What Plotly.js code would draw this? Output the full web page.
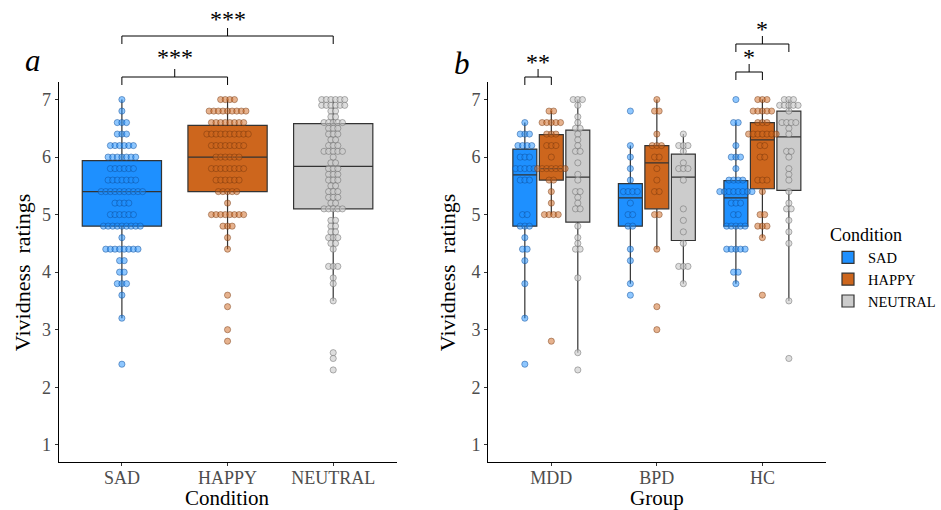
<!DOCTYPE html>
<html><head><meta charset="utf-8">
<script src="https://cdn.plot.ly/plotly-3.0.1.min.js"></script>
<style>html,body{margin:0;padding:0;background:#fff;overflow:hidden;width:941px;height:510px}#chart{width:941px;height:510px;overflow:hidden}</style>
</head><body><div id="chart"></div>
<script>
// ---------- categories ----------
const conditions = ['SAD', 'HAPPY', 'NEUTRAL'];
const groups = ['MDD', 'BPD', 'HC'];
const yTicks = [1, 2, 3, 4, 5, 6, 7];

// ---------- panel a: dot levels and counts (per condition) ----------
const aSadLevels = [7.0, 6.8, 6.6, 6.4, 6.2, 6.0, 5.8, 5.6, 5.4, 5.2, 5.0, 4.8, 4.6, 4.4, 4.2, 4.0, 3.8, 3.6, 3.2, 2.4];
const aSadCounts = [1, 1, 3, 3, 6, 7, 6, 7, 10, 4, 6, 9, 1, 8, 2, 2, 3, 1, 1, 1];
const aHappyLevels = [7.0, 6.8, 6.6, 6.4, 6.2, 6.0, 5.8, 5.6, 5.4, 5.2, 5.0, 4.8, 4.6, 4.4, 3.6, 3.4, 3.0, 2.8];
const aHappyCounts = [4, 9, 8, 10, 8, 6, 8, 6, 5, 1, 8, 3, 1, 1, 1, 1, 1, 1];
const aNeutralLevels = [7.0, 6.9, 6.8, 6.7, 6.6, 6.5, 6.4, 6.3, 6.2, 6.1, 6.0, 5.9, 5.8, 5.7, 5.6, 5.5, 5.4, 5.3, 5.2, 5.1, 4.9, 4.8, 4.7, 4.6, 4.5, 4.4, 4.1, 3.9, 3.8, 3.5, 2.6, 2.5, 2.3];
const aNeutralCounts = [6, 6, 2, 2, 5, 3, 3, 2, 3, 5, 1, 2, 3, 3, 3, 2, 3, 3, 2, 5, 2, 2, 2, 3, 2, 1, 3, 1, 1, 1, 1, 1, 1];

// panel a box statistics (SAD, HAPPY, NEUTRAL)
const aQ1 = [4.8, 5.4, 5.1];
const aMedian = [5.4, 6.0, 5.84];
const aQ3 = [5.94, 6.55, 6.58];
const aLower = [3.2, 4.4, 3.5];
const aUpper = [7.0, 7.0, 7.0];

// ---------- panel b: dot levels and counts (group x condition) ----------
const mddSadLevels = [6.6, 6.4, 6.2, 6.0, 5.8, 5.6, 5.0, 4.8, 4.6, 4.4, 4.2, 3.8, 3.2, 2.4];
const mddSadCounts = [1, 3, 4, 3, 5, 3, 2, 3, 1, 2, 1, 1, 1, 1];
const mddHappyLevels = [6.8, 6.6, 6.4, 6.2, 6.0, 5.8, 5.6, 5.4, 5.2, 5.0, 2.8];
const mddHappyCounts = [2, 5, 3, 3, 1, 7, 2, 1, 1, 4, 1];
const mddNeutralLevels = [7.0, 6.9, 6.7, 6.6, 6.5, 6.4, 6.3, 6.2, 6.1, 5.9, 5.7, 5.6, 5.4, 5.3, 5.2, 5.1, 4.8, 4.6, 4.5, 4.4, 3.9, 2.6, 2.3];
const mddNeutralCounts = [3, 1, 1, 1, 2, 1, 1, 1, 2, 1, 1, 1, 2, 1, 1, 2, 1, 1, 1, 2, 1, 1, 1];

const bpdSadLevels = [6.8, 6.2, 6.0, 5.8, 5.6, 5.4, 5.2, 5.0, 4.8, 4.4, 4.2, 3.8, 3.6];
const bpdSadCounts = [1, 1, 1, 1, 1, 4, 1, 2, 2, 1, 1, 1, 1];
const bpdHappyLevels = [7.0, 6.8, 6.4, 6.2, 6.0, 5.8, 5.6, 5.4, 5.0, 4.4, 3.4, 3.0];
const bpdHappyCounts = [1, 2, 1, 3, 2, 1, 1, 2, 2, 1, 1, 1];
const bpdNeutralLevels = [6.4, 6.2, 6.1, 5.9, 5.8, 5.6, 5.1, 4.9, 4.7, 4.5, 4.1, 3.8];
const bpdNeutralCounts = [1, 3, 1, 1, 3, 1, 1, 1, 1, 1, 3, 1];

const hcSadLevels = [7.0, 6.6, 6.2, 6.0, 5.8, 5.6, 5.4, 5.2, 5.0, 4.8, 4.4, 4.0, 3.8];
const hcSadCounts = [1, 2, 1, 3, 1, 4, 8, 3, 2, 5, 5, 2, 1];
const hcHappyLevels = [7.0, 6.8, 6.6, 6.4, 6.2, 6.0, 5.6, 5.4, 5.0, 4.8, 4.6, 3.6];
const hcHappyCounts = [3, 5, 3, 7, 2, 2, 3, 1, 2, 3, 1, 1];
const hcNeutralLevels = [7.0, 6.9, 6.8, 6.6, 6.5, 6.4, 6.1, 6.0, 5.8, 5.7, 5.6, 5.4, 5.2, 5.1, 4.9, 4.7, 4.5, 3.5, 2.5];
const hcNeutralCounts = [3, 5, 1, 4, 1, 1, 2, 1, 1, 1, 1, 1, 1, 2, 1, 1, 1, 1, 1];

// panel b box statistics, per condition across groups (MDD, BPD, HC)
const bSadQ1 = [4.8, 4.8, 4.8], bSadMedian = [5.69, 5.29, 5.29], bSadQ3 = [6.14, 5.54, 5.59], bSadLower = [3.2, 3.8, 3.8], bSadUpper = [6.6, 6.2, 6.6];
const bHappyQ1 = [5.6, 5.1, 5.45], bHappyMedian = [5.8, 5.9, 6.3], bHappyQ3 = [6.39, 6.2, 6.6], bHappyLower = [5.0, 4.4, 4.6], bHappyUpper = [6.8, 7.0, 7.0];
const bNeutralQ1 = [4.87, 4.55, 5.42], bNeutralMedian = [5.65, 5.65, 6.35], bNeutralQ3 = [6.47, 6.05, 6.8], bNeutralLower = [2.6, 3.8, 3.5], bNeutralUpper = [7.0, 6.4, 7.0];

// significance labels
const sigA = [{from: 0, to: 1, label: '***'}, {from: 0, to: 2, label: '***'}];
const sigB = [{group: 0, from: 0, to: 1, label: '**'}, {group: 2, from: 0, to: 1, label: '*'}, {group: 2, from: 0, to: 2, label: '*'}];

// ---------- styling ----------
const W = 941, H = 510;
const boxFill = ['#1E90FF', '#CD661D', '#CCCCCC'];
const dotFill = ['rgba(30,144,255,0.5)', 'rgba(205,102,29,0.5)', 'rgba(204,204,204,0.65)'];
const dotLine = ['rgba(15,75,150,0.6)', 'rgba(110,50,12,0.55)', 'rgba(100,100,100,0.6)'];
const FONT = 'Liberation Serif, DejaVu Serif, serif';
const xDomA = [58.5 / W, 396.6 / W];
const xDomB = [488 / W, 825.7 / W];
const yDom = [(H - 462) / H, (H - 82.3) / H];
const xRange = [0.4, 3.6];
const pxPerUnitA = (xDomA[1] - xDomA[0]) * W / (xRange[1] - xRange[0]);
const pxPerUnitB = (xDomB[1] - xDomB[0]) * W / (xRange[1] - xRange[0]);
const DOT_STEP_PX = 4.6, DOT_SIZE = 6.2;
const dodge = 0.251;
const py = p => (H - p) / H;
const px = p => p / W;

function dotTrace(levels, counts, center, xa, ya, ci, pxu) {
  const xs = [], ys = [];
  const dx = DOT_STEP_PX / pxu;
  levels.forEach((v, i) => {
    const n = counts[i];
    for (let k = 0; k < n; k++) { xs.push(center + (k - (n - 1) / 2) * dx); ys.push(v); }
  });
  return {type: 'scatter', mode: 'markers', x: xs, y: ys, xaxis: xa, yaxis: ya, showlegend: false,
    hoverinfo: 'y', marker: {size: DOT_SIZE, color: dotFill[ci], line: {color: dotLine[ci], width: 0.8}}};
}
function boxTrace(xs, q1, med, q3, lo, hi, ci, width, xa, ya, showlegend) {
  return {type: 'box', x: xs, q1: q1, median: med, q3: q3, lowerfence: lo, upperfence: hi,
    xaxis: xa, yaxis: ya, width: width, fillcolor: boxFill[ci], line: {color: '#333333', width: 1.2},
    whiskerwidth: 0, boxpoints: false, name: conditions[ci], legendgroup: conditions[ci], showlegend: showlegend};
}

const traces = [];
for (let c = 0; c < 3; c++) {
  traces.push(boxTrace([c + 1], [aQ1[c]], [aMedian[c]], [aQ3[c]], [aLower[c]], [aUpper[c]], c, 0.75, 'x', 'y', false));
}
const bStats = [
  [bSadQ1, bSadMedian, bSadQ3, bSadLower, bSadUpper],
  [bHappyQ1, bHappyMedian, bHappyQ3, bHappyLower, bHappyUpper],
  [bNeutralQ1, bNeutralMedian, bNeutralQ3, bNeutralLower, bNeutralUpper]
];
for (let c = 0; c < 3; c++) {
  const xs = groups.map((g, gi) => gi + 1 + (c - 1) * dodge);
  const s = bStats[c];
  traces.push(boxTrace(xs, s[0], s[1], s[2], s[3], s[4], c, 0.227, 'x2', 'y2', true));
}
const aDots = [[aSadLevels, aSadCounts], [aHappyLevels, aHappyCounts], [aNeutralLevels, aNeutralCounts]];
aDots.forEach((d, c) => traces.push(dotTrace(d[0], d[1], c + 1, 'x', 'y', c, pxPerUnitA)));
const bDots = [
  [[mddSadLevels, mddSadCounts], [mddHappyLevels, mddHappyCounts], [mddNeutralLevels, mddNeutralCounts]],
  [[bpdSadLevels, bpdSadCounts], [bpdHappyLevels, bpdHappyCounts], [bpdNeutralLevels, bpdNeutralCounts]],
  [[hcSadLevels, hcSadCounts], [hcHappyLevels, hcHappyCounts], [hcNeutralLevels, hcNeutralCounts]]
];
bDots.forEach((grp, gi) => grp.forEach((d, c) =>
  traces.push(dotTrace(d[0], d[1], gi + 1 + (c - 1) * dodge, 'x2', 'y2', c, pxPerUnitB))));

// ---------- brackets ----------
const shapes = [], annotations = [];
function bracket(xref, x1, x2, lineP, textGap, text) {
  const yl = py(lineP), ye = py(lineP + 8), yt = py(lineP - 8);
  const xc = (x1 + x2) / 2;
  shapes.push({type: 'path', xref: xref, yref: 'paper',
    path: `M ${x1},${ye} L ${x1},${yl} L ${x2},${yl} L ${x2},${ye} M ${xc},${yl} L ${xc},${yt}`,
    line: {color: '#000', width: 1}});
  annotations.push({xref: xref, yref: 'paper', x: xc, y: py(lineP - textGap), yanchor: 'middle', text: text,
    showarrow: false, font: {family: FONT, size: 24, color: '#000'}});
}
const bracketLinesA = [77, 36], bracketGapsA = [20, 17];
sigA.forEach((s, i) => bracket('x', s.from + 1, s.to + 1, bracketLinesA[i], bracketGapsA[i], s.label));
const bracketLinesB = [77, 72, 44];
sigB.forEach((s, i) => bracket('x2', s.group + 1 + (s.from - 1) * dodge, s.group + 1 + (s.to - 1) * dodge, bracketLinesB[i], 15, s.label));

// panel letters
annotations.push({xref: 'paper', yref: 'paper', x: px(33), y: py(60), text: '<i>a</i>', showarrow: false,
  font: {family: FONT, size: 31, color: '#000'}, xanchor: 'center', yanchor: 'middle'});
annotations.push({xref: 'paper', yref: 'paper', x: px(462), y: py(63), text: '<i>b</i>', showarrow: false,
  font: {family: FONT, size: 31, color: '#000'}, xanchor: 'center', yanchor: 'middle'});

// axis titles
const titleFont = {family: FONT, size: 21, color: '#000'};
annotations.push({xref: 'paper', yref: 'paper', x: (xDomA[0] + xDomA[1]) / 2, y: py(498), text: 'Condition',
  showarrow: false, font: titleFont, xanchor: 'center', yanchor: 'middle'});
annotations.push({xref: 'paper', yref: 'paper', x: (xDomB[0] + xDomB[1]) / 2, y: py(498), text: 'Group',
  showarrow: false, font: titleFont, xanchor: 'center', yanchor: 'middle'});
const yTitleFont = {family: FONT, size: 22, color: '#000'};
annotations.push({xref: 'paper', yref: 'paper', x: px(22), y: (yDom[0] + yDom[1]) / 2, text: 'Vividness  ratings',
  textangle: -90, showarrow: false, font: yTitleFont, xanchor: 'center', yanchor: 'middle'});
annotations.push({xref: 'paper', yref: 'paper', x: px(447), y: (yDom[0] + yDom[1]) / 2, text: 'Vividness  ratings',
  textangle: -90, showarrow: false, font: yTitleFont, xanchor: 'center', yanchor: 'middle'});

const axisCommon = {
  showline: true, linecolor: '#000', linewidth: 1, ticks: 'outside', ticklen: 3, tickcolor: '#333',
  showgrid: false, zeroline: false, tickfont: {family: FONT, size: 18, color: '#4D4D4D'}
};
const xCommon = Object.assign({}, axisCommon, {type: 'linear', range: xRange, tickvals: [1, 2, 3],
  tickfont: {family: FONT, size: 18, color: '#4D4D4D'}, ticklabelstandoff: -4});
const yCommon = Object.assign({}, axisCommon, {type: 'linear', range: [0.7, 7.3], tickvals: yTicks, domain: yDom});

const layout = {
  width: W, height: H, margin: {l: 0, r: 0, t: 0, b: 0},
  paper_bgcolor: '#fff', plot_bgcolor: '#fff', boxmode: 'overlay',
  font: {family: FONT},
  xaxis: Object.assign({}, xCommon, {domain: xDomA, anchor: 'y', ticktext: conditions}),
  yaxis: Object.assign({}, yCommon, {anchor: 'x'}),
  xaxis2: Object.assign({}, xCommon, {domain: xDomB, anchor: 'y2', ticktext: groups}),
  yaxis2: Object.assign({}, yCommon, {anchor: 'x2'}),
  legend: {x: 1, y: py(218), xanchor: 'right', yanchor: 'top', bgcolor: 'rgba(0,0,0,0)',
    title: {text: 'Condition', font: {family: FONT, size: 18, color: '#000'}},
    font: {family: FONT, size: 14.5, color: '#000'}, tracegroupgap: 0},
  shapes: shapes, annotations: annotations
};
Plotly.newPlot('chart', traces, layout, {displayModeBar: false, staticPlot: true});
</script>
</body></html>
